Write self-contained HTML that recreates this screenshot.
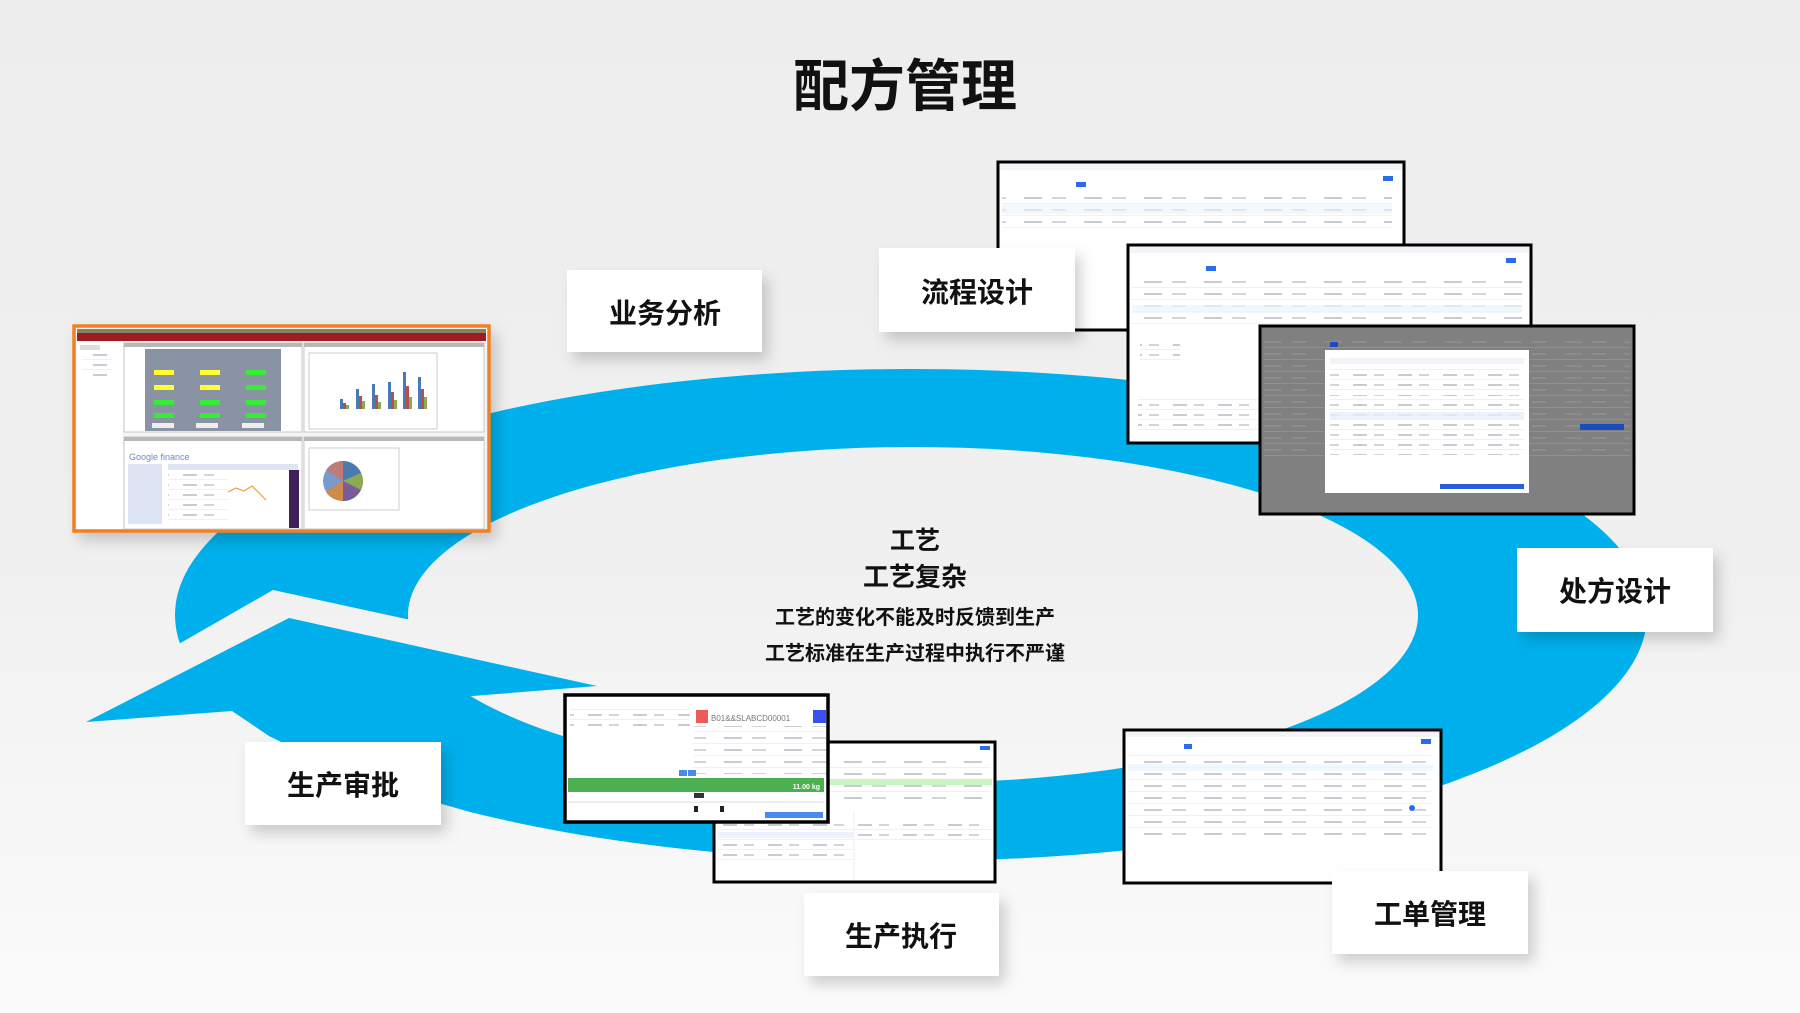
<!DOCTYPE html>
<html><head><meta charset="utf-8">
<style>
html,body{margin:0;padding:0;width:1800px;height:1013px;overflow:hidden;}
body{background:#f0f0f0;}
svg text{font-family:"Liberation Sans","Noto Sans CJK SC",sans-serif;font-weight:bold;fill:#111;}
</style></head><body>
<svg width="1800" height="1013" viewBox="0 0 1800 1013" xmlns="http://www.w3.org/2000/svg">
<defs>
<linearGradient id="bg" x1="0" y1="0" x2="0" y2="1">
<stop offset="0" stop-color="#ededed"/><stop offset="0.55" stop-color="#f0f0f0"/><stop offset="1" stop-color="#fbfbfb"/>
</linearGradient>
<filter id="sh" x="-20%" y="-20%" width="150%" height="160%">
<feDropShadow dx="6" dy="8" stdDeviation="7" flood-color="#000" flood-opacity="0.18"/>
</filter>
<mask id="gap">
<rect x="0" y="0" width="1800" height="1013" fill="#fff"/>
<polygon points="60,712 273,590 420,622 470,640 470,950 60,950" fill="#000"/>
</mask>
<pattern id="rows" x="0" y="0" width="60" height="12" patternUnits="userSpaceOnUse">
<rect x="0" y="11" width="60" height="1" fill="#eef0f3"/>
<rect x="4" y="5" width="18" height="2" fill="#c8ccd2"/>
<rect x="32" y="5" width="14" height="2" fill="#d2d5da"/>
</pattern>
<pattern id="rows2" x="0" y="0" width="45" height="10" patternUnits="userSpaceOnUse">
<rect x="0" y="9" width="45" height="1" fill="#eef0f3"/>
<rect x="3" y="4" width="14" height="2" fill="#c8ccd2"/>
<rect x="24" y="4" width="10" height="2" fill="#d2d5da"/>
</pattern>
</defs>
<rect width="1800" height="1013" fill="url(#bg)"/>

<!-- ring -->
<path mask="url(#gap)" fill="#00b0ec" fill-rule="evenodd"
d="M175,615 A736,246 0 1,0 1647,615 A736,246 0 1,0 175,615 Z M408,615 A505,168 0 1,0 1418,615 A505,168 0 1,0 408,615 Z"/>
<polygon fill="#00b0ec" points="86,722 289,618 597,686 460,697 470,692 470,812 400,792 330,766 269,736 232,711"/>

<!-- title -->
<text x="905" y="106" font-size="56" text-anchor="middle">配方管理</text>

<!-- center text -->
<text x="915" y="549" font-size="25" text-anchor="middle">工艺</text>
<text x="915" y="586" font-size="26" text-anchor="middle">工艺复杂</text>
<text x="915" y="624" font-size="20" text-anchor="middle">工艺的变化不能及时反馈到生产</text>
<text x="915" y="660" font-size="20" text-anchor="middle">工艺标准在生产过程中执行不严谨</text>

<!-- dashboard screenshot -->
<g filter="url(#sh)">
<rect x="74" y="326" width="415" height="205" fill="#f4f4f4" stroke="#f08020" stroke-width="3.5"/>
</g>
<rect x="77" y="329" width="409" height="4" fill="#8c8060"/>
<rect x="77" y="333" width="409" height="8" fill="#a01c24"/>
<rect x="77" y="341" width="46" height="188" fill="#fff"/>
<rect x="80" y="345" width="20" height="5" fill="#ddd"/>
<rect x="82" y="353" width="30" height="25" fill="url(#rows2)"/>
<rect x="124" y="343" width="178" height="89" fill="#fff" stroke="#c8c8c8"/>
<rect x="124" y="343" width="178" height="4" fill="#b8b8b8"/>
<rect x="145" y="349" width="136" height="82" fill="#8a93a4"/>
<g fill="#ffff33"><rect x="154" y="370" width="20" height="5"/><rect x="200" y="370" width="20" height="5"/><rect x="154" y="385" width="20" height="5"/><rect x="200" y="385" width="20" height="5"/></g>
<g fill="#33ee33"><rect x="246" y="370" width="20" height="5"/><rect x="246" y="385" width="20" height="5"/><rect x="154" y="400" width="20" height="5"/><rect x="200" y="400" width="20" height="5"/><rect x="246" y="400" width="20" height="5"/><rect x="154" y="413" width="20" height="5"/><rect x="200" y="413" width="20" height="5"/><rect x="246" y="413" width="20" height="5"/></g>
<g fill="#eee"><rect x="152" y="423" width="22" height="5"/><rect x="196" y="423" width="22" height="5"/><rect x="242" y="423" width="22" height="5"/></g>
<rect x="304" y="343" width="180" height="89" fill="#fff" stroke="#c8c8c8"/>
<rect x="304" y="343" width="180" height="4" fill="#b8b8b8"/>
<rect x="309" y="353" width="128" height="76" fill="#fff" stroke="#ccc"/>
<g fill="#4a78b8"><rect x="340" y="399" width="3" height="10"/><rect x="356" y="389" width="3" height="20"/><rect x="372" y="384" width="3" height="25"/><rect x="388" y="382" width="3" height="27"/><rect x="403" y="372" width="3" height="37"/><rect x="418" y="377" width="3" height="32"/></g>
<g fill="#b8504a"><rect x="343" y="403" width="3" height="6"/><rect x="359" y="396" width="3" height="13"/><rect x="375" y="395" width="3" height="14"/><rect x="391" y="392" width="3" height="17"/><rect x="406" y="386" width="3" height="23"/><rect x="421" y="389" width="3" height="20"/></g>
<g fill="#8aac4e"><rect x="346" y="405" width="3" height="4"/><rect x="362" y="401" width="3" height="8"/><rect x="378" y="402" width="3" height="7"/><rect x="394" y="400" width="3" height="9"/><rect x="409" y="397" width="3" height="12"/><rect x="424" y="397" width="3" height="12"/></g>
<rect x="124" y="437" width="178" height="92" fill="#fff" stroke="#c8c8c8"/>
<rect x="124" y="437" width="178" height="4" fill="#b8b8b8"/>
<text x="129" y="460" font-size="9" style="font-weight:normal;fill:#6a8ad0">Google finance</text>
<rect x="128" y="464" width="34" height="60" fill="#dde4f4"/>
<rect x="168" y="464" width="130" height="6" fill="#dde4f4"/>
<rect x="168" y="474" width="60" height="50" fill="url(#rows2)"/>
<path d="M228,492 l8,-4 l8,3 l8,-5 l8,8 l6,6" stroke="#e0a040" fill="none" stroke-width="1.2"/>
<rect x="289" y="470" width="10" height="58" fill="#40205a"/>
<rect x="304" y="437" width="180" height="92" fill="#fff" stroke="#c8c8c8"/>
<rect x="304" y="437" width="180" height="4" fill="#b8b8b8"/>
<rect x="309" y="448" width="90" height="62" fill="#fff" stroke="#ccc"/>
<circle cx="343" cy="481" r="20" fill="#7a9ac8"/>
<path d="M343,481 L343,461 A20,20 0 0,1 361,473 Z" fill="#4a7ab0"/>
<path d="M343,481 L361,473 A20,20 0 0,1 361,490 Z" fill="#8aac4e"/>
<path d="M343,481 L361,490 A20,20 0 0,1 343,501 Z" fill="#7a5a9a"/>
<path d="M343,481 L343,501 A20,20 0 0,1 326,492 Z" fill="#d08a4a"/>
<path d="M343,481 L326,470 A20,20 0 0,1 343,461 Z" fill="#c07a7a"/>

<!-- top screenshots -->
<rect x="998" y="162" width="406" height="168" fill="#fff" stroke="#000" stroke-width="3"/>
<rect x="1000" y="164" width="402" height="6" fill="#f2f4f7"/>
<rect x="1076" y="182" width="10" height="5" fill="#2a6cf0"/>
<rect x="1383" y="176" width="10" height="5" fill="#2a6cf0"/>
<rect x="1002" y="192" width="390" height="40" fill="url(#rows)"/>
<rect x="1002" y="204" width="390" height="10" fill="#e8f5fd" opacity="0.6"/>

<g filter="url(#sh)"><rect x="879" y="248" width="196" height="84" fill="#fff"/></g>
<text x="977" y="302" font-size="28" text-anchor="middle">流程设计</text>

<rect x="1128" y="245" width="403" height="198" fill="#fff" stroke="#000" stroke-width="3"/>
<rect x="1130" y="247" width="399" height="6" fill="#f2f4f7"/>
<rect x="1206" y="266" width="10" height="5" fill="#2a6cf0"/>
<rect x="1506" y="258" width="10" height="5" fill="#2a6cf0"/>
<rect x="1132" y="276" width="390" height="50" fill="url(#rows)"/>
<rect x="1132" y="305" width="390" height="8" fill="#e8f5fd" opacity="0.7"/>
<rect x="1140" y="342" width="40" height="20" fill="url(#rows2)"/>
<rect x="1138" y="398" width="120" height="36" fill="url(#rows2)"/>

<rect x="1260" y="326" width="374" height="188" fill="#808080" stroke="#000" stroke-width="3"/>
<rect x="1264" y="340" width="366" height="120" fill="url(#rows)" opacity="0.15"/>
<rect x="1330" y="342" width="8" height="5" fill="#1a4cc0"/>
<rect x="1580" y="424" width="44" height="6" fill="#1a4cc0"/>
<rect x="1325" y="350" width="204" height="143" fill="#fff"/>
<rect x="1330" y="358" width="194" height="6" fill="#f2f4f7"/>
<rect x="1330" y="366" width="190" height="24" fill="url(#rows2)"/>
<rect x="1330" y="395" width="194" height="60" fill="url(#rows2)"/>
<rect x="1330" y="412" width="194" height="8" fill="#e6eefc" opacity="0.8"/>
<rect x="1440" y="484" width="84" height="5" fill="#2a5ce0"/>

<!-- labels -->
<g filter="url(#sh)">
<rect x="567" y="270" width="195" height="82" fill="#fff"/>
<rect x="1517" y="548" width="196" height="84" fill="#fff"/>
</g>
<text x="665" y="323" font-size="28" text-anchor="middle">业务分析</text>
<text x="1615" y="601" font-size="28" text-anchor="middle">处方设计</text>

<!-- execution screenshots -->
<rect x="714" y="742" width="281" height="140" fill="#fff" stroke="#000" stroke-width="3"/>
<rect x="980" y="746" width="10" height="4" fill="#2a6cf0"/>
<rect x="830" y="760" width="160" height="40" fill="url(#rows)"/>
<rect x="828" y="779" width="164" height="6" fill="#c8f5c0"/>
<rect x="718" y="820" width="135" height="40" fill="url(#rows2)"/>
<rect x="718" y="832" width="135" height="6" fill="#eef2fc"/>
<rect x="855" y="820" width="136" height="20" fill="url(#rows2)"/>
<line x1="854" y1="812" x2="854" y2="880" stroke="#eee"/>

<rect x="565" y="695" width="263" height="127" fill="#fff" stroke="#000" stroke-width="3.5"/>
<rect x="570" y="707" width="120" height="20" fill="url(#rows2)"/>
<rect x="696" y="710" width="12" height="13" fill="#ee5a5a"/>
<text x="711" y="721" font-size="8" style="font-weight:normal;fill:#777">B01&amp;&amp;SLABCD00001</text>
<rect x="813" y="710" width="13" height="13" fill="#3a50f0"/>
<rect x="694" y="726" width="132" height="48" fill="url(#rows)"/>
<rect x="679" y="770" width="8" height="6" fill="#4a8af0"/><rect x="688" y="770" width="8" height="6" fill="#4a8af0"/>
<rect x="568" y="778" width="256" height="14" fill="#4caf50"/>
<text x="820" y="789" font-size="7" text-anchor="end" style="fill:#fff">11.00 kg</text>
<rect x="694" y="793" width="10" height="5" fill="#333"/>
<line x1="568" y1="802" x2="824" y2="802" stroke="#ddd"/>
<rect x="694" y="806" width="4" height="6" fill="#222"/><rect x="720" y="806" width="4" height="6" fill="#222"/>
<rect x="765" y="812" width="58" height="6" fill="#4a8af0"/>

<!-- workorder screenshot -->
<rect x="1124" y="730" width="317" height="153" fill="#fff" stroke="#000" stroke-width="3"/>
<rect x="1126" y="732" width="313" height="5" fill="#f2f4f7"/>
<rect x="1184" y="744" width="8" height="5" fill="#2a6cf0"/>
<rect x="1421" y="739" width="10" height="5" fill="#2a6cf0"/>
<rect x="1128" y="752" width="305" height="72" fill="url(#rows)"/>
<rect x="1128" y="764" width="305" height="7" fill="#e8f5fd" opacity="0.7"/>
<circle cx="1412" cy="808" r="3" fill="#2a6cf0"/>
<rect x="1128" y="812" width="305" height="24" fill="url(#rows)"/>

<g filter="url(#sh)">
<rect x="245" y="742" width="196" height="83" fill="#fff"/>
<rect x="804" y="893" width="195" height="83" fill="#fff"/>
<rect x="1332" y="871" width="196" height="83" fill="#fff"/>
</g>
<text x="343" y="795" font-size="28" text-anchor="middle">生产审批</text>
<text x="901" y="946" font-size="28" text-anchor="middle">生产执行</text>
<text x="1430" y="924" font-size="28" text-anchor="middle">工单管理</text>
</svg>
</body></html>
